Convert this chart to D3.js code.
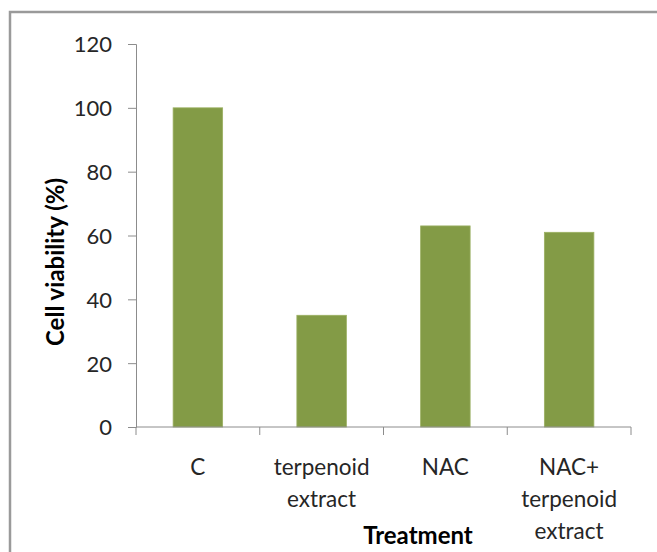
<!DOCTYPE html>
<html>
<head>
<meta charset="utf-8">
<script src="https://cdn.jsdelivr.net/npm/d3@7"></script>
<style>
  body { margin: 0; background: #fff; }
  svg text { font-family: Lato, "Open Sans", sans-serif; fill: #262626; }
</style>
</head>
<body>
<div id="chart"></div>
<script>
// data
var categories = [["C"], ["terpenoid", "extract"], ["NAC"], ["NAC+", "terpenoid", "extract"]];
var viability = [100, 35, 63, 61];
var yTicks = [0, 20, 40, 60, 80, 100, 120];

var W = 657, H = 552;
var margin = {top: 44, right: 26, bottom: 125, left: 136},
    width = W - margin.left - margin.right,
    height = H - margin.top - margin.bottom;

var svg = d3.select("#chart")
  .append("svg")
    .attr("width", W)
    .attr("height", H);

// outer frame (only top and left visible)
svg.append("path")
  .attr("d", "M10,560 L10,12 L670,12")
  .attr("fill", "none")
  .attr("stroke", "#9a9a9a")
  .attr("stroke-width", 2.5);

var g = svg.append("g")
  .attr("transform", "translate(" + margin.left + "," + margin.top + ")");

var keys = categories.map(function(c) { return c.join(" "); });

var x = d3.scaleBand()
  .domain(keys)
  .range([0, width])
  .paddingInner(0.6)
  .paddingOuter(0.3);

var y = d3.scaleLinear()
  .domain([0, 120])
  .range([height, 0]);

// bars
g.selectAll("rect.bar")
  .data(viability)
  .enter().append("rect")
    .attr("class", "bar")
    .attr("x", function(d, i) { return x(keys[i]); })
    .attr("y", function(d) { return y(d); })
    .attr("width", x.bandwidth())
    .attr("height", function(d) { return height - y(d); })
    .attr("fill", "#839b46")
    .attr("stroke", "#9bb062")
    .attr("stroke-width", 0.8);

// y axis
var yAxis = g.append("g")
  .call(d3.axisLeft(y).tickValues(yTicks).tickSize(8).tickSizeOuter(8));
yAxis.select(".domain").attr("stroke", "#8c8c8c");
yAxis.selectAll(".tick line").attr("stroke", "#8c8c8c");
yAxis.selectAll(".tick text")
  .attr("x", -24)
  .attr("dy", "0.36em")
  .style("font-size", "22px");

// x axis: ticks at band boundaries
var boundaries = d3.range(keys.length + 1).map(function(i) { return i * width / keys.length; });
var xAxis = g.append("g").attr("transform", "translate(0," + height + ")");
xAxis.append("line")
  .attr("x1", 0).attr("x2", width)
  .attr("stroke", "#8c8c8c");
xAxis.selectAll("line.tk")
  .data(boundaries)
  .enter().append("line")
    .attr("class", "tk")
    .attr("x1", function(d) { return d; })
    .attr("x2", function(d) { return d; })
    .attr("y1", 0).attr("y2", 8)
    .attr("stroke", "#8c8c8c");

// category labels
categories.forEach(function(lines, i) {
  var t = xAxis.append("text")
    .attr("text-anchor", "middle")
    .attr("y", 48)
    .style("font-size", "22.5px");
  lines.forEach(function(s, j) {
    t.append("tspan")
      .attr("x", x(keys[i]) + x.bandwidth() / 2)
      .attr("dy", j === 0 ? 0 : 32)
      .text(s);
  });
});

// axis titles
svg.append("text")
  .attr("x", 418)
  .attr("y", 544)
  .attr("text-anchor", "middle")
  .style("font-size", "24px")
  .style("font-weight", "bold")
  .style("fill", "#000")
  .text("Treatment");

svg.append("text")
  .attr("transform", "translate(64,262) rotate(-90)")
  .attr("text-anchor", "middle")
  .style("font-size", "24px")
  .style("font-weight", "bold")
  .style("fill", "#000")
  .text("Cell viability (%)");
</script>
</body>
</html>
